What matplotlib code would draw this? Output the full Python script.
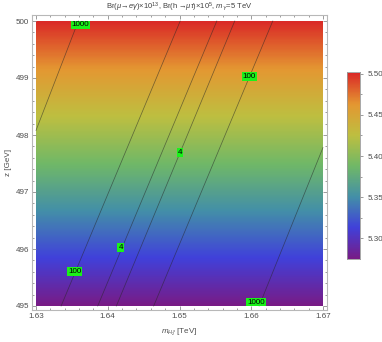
import numpy as np
import matplotlib
matplotlib.use("Agg")
import matplotlib.pyplot as plt
from matplotlib.colors import LinearSegmentedColormap

plt.rcParams['font.family'] = ['Liberation Sans', 'DejaVu Sans']
plt.rcParams['mathtext.fontset'] = 'custom'
plt.rcParams['mathtext.rm'] = 'Liberation Sans'
plt.rcParams['mathtext.it'] = 'Liberation Sans:italic'

# ---- data ----
x_range = [1.63, 1.67]          # m_H2 [TeV]
z_range = [495.0, 500.0]        # z [GeV]
field_bottom = 5.275            # colour value at z = 495
field_top = 5.50                # colour value at z = 500

# contour lines: (x0, z0) -> (x1, z1)
line_x0 = [1.6300, 1.6335, 1.6386, 1.6412, 1.6464, 1.6611]
line_z0 = [498.08, 495.0, 495.0, 495.0, 495.0, 495.0]
line_x1 = [1.6359, 1.6501, 1.6552, 1.6577, 1.6630, 1.6700]
line_z1 = [500.0, 500.0, 500.0, 500.0, 500.0, 497.78]

label_text = ["1000", "100", "4", "4", "100", "1000"]
label_x = [1.6362, 1.6354, 1.6418, 1.6501, 1.6597, 1.6607]
label_z = [499.93, 495.61, 496.02, 497.70, 499.02, 495.07]

cbar_ticks = [5.30, 5.35, 5.40, 5.45, 5.50]

rainbow = LinearSegmentedColormap.from_list("mma_rainbow", [
    (0.471, 0.108, 0.527),
    (0.253, 0.254, 0.857),
    (0.264, 0.563, 0.658),
    (0.441, 0.723, 0.404),
    (0.745, 0.749, 0.253),
    (0.894, 0.594, 0.196),
    (0.857, 0.168, 0.154),
])

W, H = 382, 342
fig = plt.figure(figsize=(W / 100, H / 100), dpi=100)
ax = fig.add_axes([32 / W, (H - 310) / H, 295 / W, 295 / H])

field = np.linspace(field_bottom, field_top, 300).reshape(-1, 1)
ax.imshow(field, origin="lower", aspect="auto", cmap=rainbow,
          vmin=field_bottom, vmax=field_top,
          extent=(x_range[0], x_range[1], z_range[0], z_range[1]),
          interpolation="bilinear")

for a, b, c, d in zip(line_x0, line_z0, line_x1, line_z1):
    ax.plot([a, c], [b, d], color=(0.15, 0.15, 0.15), lw=0.55, alpha=0.55)

for t, lx, lz in zip(label_text, label_x, label_z):
    ax.text(lx, lz, t, ha="center", va="center", fontsize=5.8, color="black",
            bbox=dict(boxstyle="square,pad=0.12", fc=(0.1, 0.95, 0.1), ec="none"))

xpad = 4 / 7175
ax.set_xlim(x_range[0] - xpad, x_range[1] + xpad)
ax.set_ylim(z_range[0] - 4 / 57, z_range[1] + 6 / 57)

ax.set_xticks([1.63, 1.64, 1.65, 1.66, 1.67])
ax.set_xticklabels(["1.63", "1.64", "1.65", "1.66", "1.67"])
ax.set_xticks(np.arange(1.63, 1.6701, 0.002), minor=True)
ax.set_yticks([495, 496, 497, 498, 499, 500])
ax.set_yticks(np.arange(495, 500.01, 0.2), minor=True)

gray = (0.55, 0.55, 0.55)
for s in ax.spines.values():
    s.set_color((0.72, 0.72, 0.72))
    s.set_linewidth(0.8)
ax.tick_params(which="both", direction="in", top=True, right=True,
               color=gray, width=0.6, labelsize=5.8, labelcolor=(0.3, 0.3, 0.3), pad=2)
ax.tick_params(which="major", length=3)
ax.tick_params(which="minor", length=1.6)

ax.set_xlabel(r"$m_{H_2^{\pm}}$ [TeV]", fontsize=5.8, color=(0.3, 0.3, 0.3), labelpad=5)
ax.set_ylabel("z [GeV]", fontsize=5.8, color=(0.3, 0.3, 0.3), labelpad=3)
ax.set_title(r"Br($\mu\!\to\!e\gamma$)$\times$10$^{13}$, Br(h$\to\!\mu\tau$)$\times$10$^{5}$, $m_Y$=5 TeV",
             fontsize=5.5, color=(0.25, 0.25, 0.25), pad=4)

# colour bar
cax = fig.add_axes([347 / W, (H - 259) / H, 13 / W, 187 / H])
cax.imshow(field, origin="lower", aspect="auto", cmap=rainbow,
           vmin=field_bottom, vmax=field_top,
           extent=(0, 1, field_bottom, field_top), interpolation="bilinear")
cax.set_xlim(0, 1)
cax.set_ylim(field_bottom, field_top + 0.002)
cax.set_xticks([])
cax.yaxis.tick_right()
cax.set_yticks(cbar_ticks)
cax.set_yticklabels([f"{v:.2f}" for v in cbar_ticks])
cax.set_yticks([5.325, 5.375, 5.425, 5.475], minor=True)
cax.tick_params(which="both", direction="out", color=gray, width=0.6,
                labelsize=5.8, labelcolor=(0.3, 0.3, 0.3), pad=3)
cax.tick_params(which="major", length=2.5)
cax.tick_params(which="minor", length=1.5)
for s in cax.spines.values():
    s.set_color((0.6, 0.6, 0.6))
    s.set_linewidth(0.6)

fig.savefig("out.png", dpi=100)
